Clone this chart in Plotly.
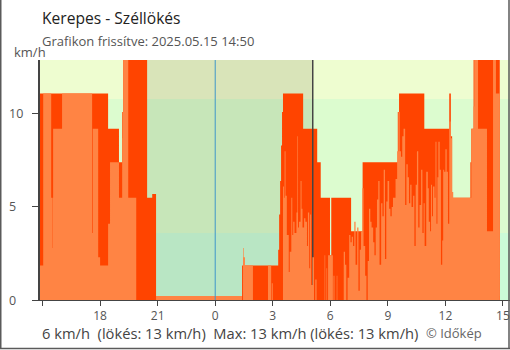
import pandas as pd
import plotly.graph_objects as go

# 24 hour window of the Kerepes station (local time)
start = pd.Timestamp("2025-05-14 14:50")

# Gusts (km/h): step changes, minutes after window start -> value
gust_min = [0, 215, 249, 259, 262, 337, 353, 365, 634, 747, 750, 753, 756, 759, 762,
            825, 869, 880, 909, 913, 975, 1011, 1121, 1125, 1204, 1282, 1287, 1291,
            1294, 1348, 1351, 1358, 1440]
gust_kmh = [11.1, 9.2, 7.4, 10.1, 13.0, 5.5, 5.7, 0, 1.85, 2.7, 4.6, 6.4, 8.3, 10.1, 11.1,
            9.2, 7.4, 5.5, 2.4, 5.5, 3.7, 7.4, 10.1, 11.1, 9.2, 11.1, 8.8, 5.8,
            5.5, 7.4, 9.2, 13.0, 13.0]

# Mean wind (km/h): step changes, minutes after window start -> value
wind_min = [0, 12, 37, 40, 41, 43, 71, 165, 167, 184, 190, 215, 221, 249, 259, 260, 262, 278, 303,
            637, 639, 643, 668, 715, 725, 727, 730,
            762, 765, 767, 770, 774, 780, 783, 788, 791, 794, 798, 804, 807, 809, 812, 817, 820,
            823, 828, 832, 837, 840, 844, 847, 850, 854, 859, 863, 867, 892, 894, 898, 900, 903,
            918, 920, 923, 930, 932, 952,
            956, 960, 964, 969, 973, 977, 981, 985, 989, 994, 998, 1002, 1006, 1010, 1014, 1019,
            1023, 1027, 1031, 1035, 1039, 1044, 1048, 1052, 1056, 1060, 1064, 1069, 1073, 1077,
            1081, 1085, 1089, 1094, 1098, 1102, 1106, 1114, 1119, 1123, 1127, 1131, 1135, 1139,
            1144, 1148, 1152, 1156, 1160, 1164, 1169, 1173, 1177, 1181, 1185, 1189, 1194, 1198, 1202,
            1205, 1210, 1215, 1218, 1222, 1225, 1228, 1231, 1236, 1239, 1242, 1245, 1248, 1252,
            1256, 1260, 1263, 1266, 1270, 1274, 1278, 1282, 1287, 1291, 1294, 1351, 1358, 1360,
            1372, 1400, 1419, 1428, 1440]
wind_kmh = [1.85, 11.1, 5.5, 2.8, 5.5, 9.2, 11.1, 3.6, 9.2, 2.3, 1.85, 4.1, 7.4, 5.5, 8.7, 10.1, 13.0, 5.5, 0,
            2.8, 2.3, 1.85, 0, 1.85, 0, 0.9, 0,
            6.1, 5.5, 8.0, 5.6, 3.5, 1.5, 2.6, 5.5, 3.5, 4.2, 3.6, 4.7, 8.8, 3.9, 4.2, 6.4, 4.9,
            3.9, 4.4, 4.2, 2.9, 4.7, 1.7, 4.6, 0.8, 2.3, 0, 1.1, 0, 2.4, 0, 1.7, 0, 2.4,
            0, 1.3, 0, 1.3, 0, 2.6,
            1.9, 0, 1.2, 3.5, 3.1, 3.4, 2.9, 4.2, 1.9, 3.9, 0.5, 2.7, 3.7, 6.0, 2.9, 1.3,
            0, 2.1, 4.9, 4.2, 3.9, 3.1, 2.4, 3.9, 5.4, 6.4, 1.9, 5.2, 4.5, 7.0,
            2.2, 5.3, 6.4, 4.9, 4.5, 5.0, 5.5, 6.5, 8.0, 10.1, 8.0, 7.7, 8.8, 9.2,
            5.1, 7.3, 6.6, 5.2, 6.2, 5.0, 5.6, 2.9, 6.2, 8.0, 3.9, 5.1, 7.0, 3.6, 5.2,
            2.9, 6.9, 6.0, 4.2, 3.7, 6.2, 4.5, 6.1, 5.5, 8.5, 4.1, 6.6, 8.5, 7.0,
            1.9, 3.2, 7.0, 6.9, 8.1, 6.9, 4.1, 9.6, 8.7, 5.8, 5.5, 9.2, 10.4, 13.0,
            9.2, 3.7, 13.0, 11.1, 11.1]

current_wind, current_gust = 6, 13

sunset = pd.Timestamp("2025-05-14 20:25")
sunrise = pd.Timestamp("2025-05-15 05:05")
midnight = pd.Timestamp("2025-05-15 00:00")

# wind speed zones (km/h) and their day / night tints
band_edges = [0, 3.6, 10.8, 12.9]
day_colors = ["#cbfcd8", "#dcfccf", "#eefdd0"]
night_colors = ["#b9e6c4", "#c7e6b9", "#d9e4b9"]

x_start = pd.Timestamp("2025-05-14 14:52")
x_end = pd.Timestamp("2025-05-15 15:22")
tick_times = pd.date_range("2025-05-14 15:00", "2025-05-15 15:00", freq="3h")
tick_labels = ["", "18", "21", "0", "3", "6", "9", "12", "15"]
y_ticks = [0, 5, 10]

RED = "#ff4400"
ORANGE = "#ff8444"
FONT = "Open Sans"

gust_t = start + pd.to_timedelta(gust_min, unit="min")
wind_t = start + pd.to_timedelta(wind_min, unit="min")
end = start + pd.Timedelta(minutes=1440)

fig = go.Figure()

# thin base strip of the wind series along zero
fig.add_trace(go.Scatter(x=[start, end], y=[0, 0], mode="lines",
                         line=dict(color=ORANGE, width=8), hoverinfo="skip"))
fig.add_trace(go.Scatter(x=gust_t, y=gust_kmh, mode="lines", line_shape="hv",
                         line=dict(width=0, color=RED), fill="tozeroy", fillcolor=RED,
                         name="lökés"))
fig.add_trace(go.Scatter(x=[midnight, midnight], y=[0, band_edges[-1]], mode="lines",
                         line=dict(color="#3f97c9", width=1), hoverinfo="skip"))
fig.add_trace(go.Scatter(x=[sunrise, sunrise], y=[0, band_edges[-1]], mode="lines",
                         line=dict(color="#444444", width=1.5), hoverinfo="skip"))
fig.add_trace(go.Scatter(x=wind_t, y=wind_kmh, mode="lines", line_shape="hv",
                         line=dict(width=0, color=ORANGE), fill="tozeroy", fillcolor=ORANGE,
                         name="szél"))

shapes = []
for i in range(3):
    shapes.append(dict(type="rect", xref="x", yref="y", x0=x_start, x1=x_end,
                       y0=band_edges[i], y1=band_edges[i + 1], fillcolor=day_colors[i],
                       line_width=0, layer="below"))
    shapes.append(dict(type="rect", xref="x", yref="y", x0=sunset, x1=sunrise,
                       y0=band_edges[i], y1=band_edges[i + 1], fillcolor=night_colors[i],
                       line_width=0, layer="below"))

# outer frame of the widget
W, H, ML, MT, MB = 510, 350, 40, 60, 50
pw, ph = W - ML, H - MT - MB
def px(p):
    return (p - ML) / pw
def py(q):
    return (H - MB - q) / ph
for x0, y0, x1, y1 in [(0.75, 0, 0.75, 349), (509, 0, 509, 349), (0, 348.6, 510, 348.6)]:
    shapes.append(dict(type="line", xref="paper", yref="paper", x0=px(x0), x1=px(x1),
                       y0=py(y0), y1=py(y1), line=dict(color="#5a5a5a", width=1.5)))

annotations = [
    dict(text="Kerepes - Széllökés", x=px(40), y=py(18), xref="paper", yref="paper",
         xanchor="left", yanchor="middle", showarrow=False,
         font=dict(family=FONT, size=15.6, color="#222222")),
    dict(text="Grafikon frissítve: 2025.05.15 14:50", x=px(40), y=py(41), xref="paper",
         yref="paper", xanchor="left", yanchor="middle", showarrow=False,
         font=dict(family=FONT, size=13, color="#555555")),
    dict(text="km/h", x=px(12), y=py(52), xref="paper", yref="paper",
         xanchor="left", yanchor="middle", showarrow=False,
         font=dict(family=FONT, size=13, color="#555555")),
    dict(text=(f"{current_wind} km/h\u00a0 (lökés: {current_gust} km/h)\u00a0 "
               f"Max: {max(wind_kmh):.0f} km/h (lökés: {max(gust_kmh):.0f} km/h)"),
         x=px(40), y=py(333), xref="paper", yref="paper", xanchor="left", yanchor="middle",
         showarrow=False, font=dict(family=FONT, size=14.7, color="#444444")),
    dict(text="© Időkép", x=px(425), y=py(332.5), xref="paper", yref="paper",
         xanchor="left", yanchor="middle", showarrow=False, borderpad=0,
         font=dict(family=FONT, size=13, color="#666666")),
]
# left-aligned value labels of the y axis
for v in y_ticks:
    annotations.append(dict(text=str(v), x=px(7), y=v, xref="paper", yref="y",
                            xanchor="left", yanchor="middle", showarrow=False,
                            font=dict(family=FONT, size=12.5, color="#555555")))

fig.update_layout(
    width=W, height=H, margin=dict(l=ML, r=0, t=MT, b=MB, pad=0),
    paper_bgcolor="white", plot_bgcolor="white", showlegend=False,
    shapes=shapes, annotations=annotations,
    font=dict(family=FONT, color="#555555"),
    xaxis=dict(type="date", range=[x_start, x_end], tickvals=tick_times, ticktext=tick_labels,
               ticks="outside", ticklen=5, tickcolor="#444444", showline=True,
               linecolor="#444444", linewidth=1, showgrid=False, zeroline=False,
               tickfont=dict(family=FONT, size=12, color="#555555"),
               ticklabeloverflow="allow", fixedrange=True),
    yaxis=dict(range=[0, band_edges[-1]], tickvals=y_ticks, showticklabels=False,
               ticks="outside", ticklen=6, tickcolor="#444444", showline=True,
               linecolor="#444444", linewidth=1.5, showgrid=False, zeroline=False,
               fixedrange=True),
)

fig.write_html("out.html")
